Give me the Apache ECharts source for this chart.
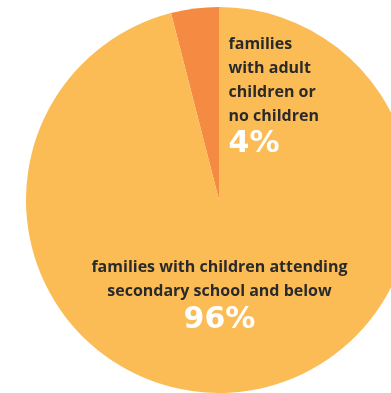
<!DOCTYPE html>
<html><head><meta charset="utf-8">
<script src="https://cdn.jsdelivr.net/npm/echarts@6/dist/echarts.min.js"></script>
<style>html,body{margin:0;padding:0;background:#fff;}#c{width:391px;height:393px;}</style>
</head><body><div id="c"></div>
<script>
const categories = ["families\nwith adult\nchildren or\nno children", "families with children attending\nsecondary school and below"];
const values = [4, 96];
const sliceColors = ["#F58A42", "#FBBC56"];

const chart = echarts.init(document.getElementById('c'), null, {renderer: 'canvas'});
const labelCfg = [
  {offset: [77, -5], lineAlign: 'left', width: 110},
  {offset: [-12, -3], lineAlign: 'center', width: 300}
];
chart.setOption({
  animation: false,
  series: [{
    type: 'pie',
    center: [219, 200],
    radius: [0, 193],
    startAngle: 90,
    clockwise: false,
    silent: true,
    labelLine: {show: false},
    data: values.map((v, i) => ({
      value: v,
      name: categories[i],
      itemStyle: {color: sliceColors[i], borderWidth: 0},
      label: {
        show: true,
        position: 'inside',
        offset: labelCfg[i].offset,
        width: labelCfg[i].width,
        formatter: p => '{n|' + p.name.split('\n').join('}\n{n|') + '}\n{p|' + p.value + '%}',
        rich: {
          n: {fontFamily: 'Open Sans', fontWeight: 'bold', fontSize: 16, color: '#2a2a2a', lineHeight: 24, align: labelCfg[i].lineAlign},
          p: {fontFamily: 'DejaVu Sans', fontWeight: 'bold', fontSize: 30, color: '#ffffff', lineHeight: 32, align: labelCfg[i].lineAlign}
        }
      }
    }))
  }]
});
</script></body></html>
